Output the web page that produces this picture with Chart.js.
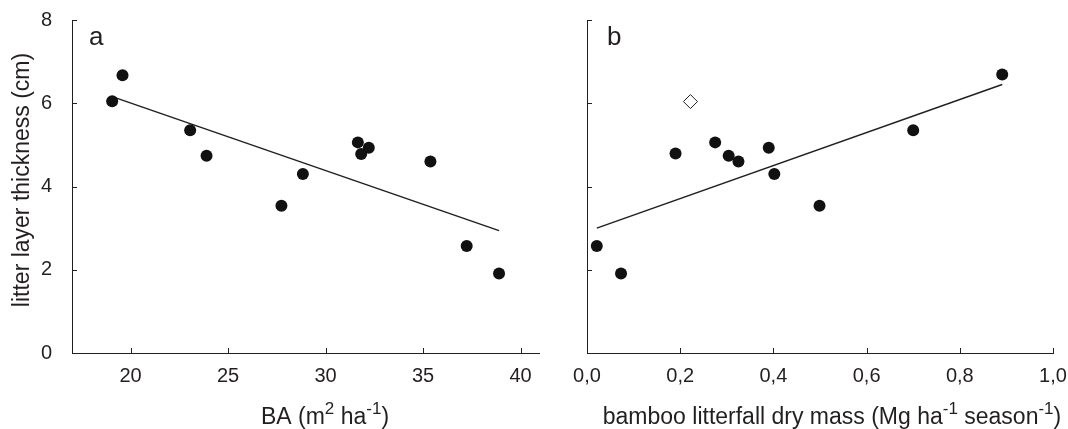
<!DOCTYPE html>
<html>
<head>
<meta charset="utf-8">
<script src="https://cdn.jsdelivr.net/npm/chart.js@4.4.0/dist/chart.umd.min.js"></script>
<style>
  html, body { margin: 0; padding: 0; background: #fff; }
  #wrap { position: relative; width: 1068px; height: 429px; }
  #chartA { position: absolute; left: 0; top: 0; }
  #chartB { position: absolute; left: 540px; top: 0; }
</style>
</head>
<body>
<div id="wrap">
  <canvas id="chartA" width="540" height="429"></canvas>
  <canvas id="chartB" width="528" height="429"></canvas>
</div>
<script>
// panel a: basal area vs litter layer thickness
const basalArea = [19.06, 19.59, 23.06, 23.90, 27.74, 28.84, 31.66, 31.83, 32.22, 35.38, 37.24, 38.90];
const thicknessA = [6.05, 6.67, 5.35, 4.74, 3.54, 4.30, 5.06, 4.78, 4.93, 4.60, 2.57, 1.91];
const fitAX = [19.06, 38.90];
const fitAY = [6.16, 2.94];

// panel b: bamboo litterfall vs litter layer thickness
const litterMass = [0.021, 0.073, 0.190, 0.275, 0.304, 0.325, 0.390, 0.402, 0.499, 0.700, 0.891];
const thicknessB = [2.57, 1.91, 4.79, 5.06, 4.74, 4.60, 4.93, 4.30, 3.54, 5.35, 6.69];
const outlierMass = [0.222];
const outlierThickness = [6.04];
const fitBX = [0.021, 0.891];
const fitBY = [3.00, 6.45];

// ticks
const thicknessTicks = [0, 2, 4, 6, 8];
const basalTicks = [20, 25, 30, 35, 40];
const massTicks = [0, 0.2, 0.4, 0.6, 0.8, 1.0];

const FONT = "'Liberation Sans', Arial, sans-serif";
const INK = "#231f20";

function toPoints(xs, ys) {
    return xs.map((x, i) => ({ x: x, y: ys[i] }));
}

// text with superscript pieces, centred on cx
function drawRich(ctx, parts, cx, y, size) {
    const supSize = Math.round(size * 0.72);
    let total = 0;
    parts.forEach(p => {
        ctx.font = (p[1] ? supSize : size) + "px " + FONT;
        total += ctx.measureText(p[0]).width;
    });
    let x = cx - total / 2;
    ctx.textAlign = "left";
    ctx.textBaseline = "alphabetic";
    parts.forEach(p => {
        ctx.font = (p[1] ? supSize : size) + "px " + FONT;
        ctx.fillText(p[0], x, p[1] ? y - size * 0.42 : y);
        x += ctx.measureText(p[0]).width;
    });
}

// inward tick marks, panel letter and axis titles
function panelDecor(cfg) {
    return {
        id: "panelDecor",
        afterDraw(chart) {
            const ctx = chart.ctx;
            const area = chart.chartArea;
            const sx = chart.scales.x, sy = chart.scales.y;
            ctx.save();
            ctx.strokeStyle = INK;
            ctx.lineWidth = 1;
            ctx.beginPath();
            sx.ticks.forEach(t => {
                const px = Math.round(sx.getPixelForValue(t.value)) + 0.5;
                ctx.moveTo(px, area.bottom);
                ctx.lineTo(px, area.bottom - 5);
            });
            sy.ticks.forEach(t => {
                const py = Math.round(sy.getPixelForValue(t.value)) + 0.5;
                ctx.moveTo(area.left, py);
                ctx.lineTo(area.left + 5, py);
            });
            ctx.stroke();

            ctx.fillStyle = INK;
            ctx.font = "26px " + FONT;
            ctx.textAlign = "left";
            ctx.textBaseline = "alphabetic";
            ctx.fillText(cfg.letter, cfg.letterX, 45);

            drawRich(ctx, cfg.xTitle, cfg.xTitleX, 424, 23);

            if (cfg.yTitle) {
                ctx.translate(23, 180);
                ctx.rotate(-Math.PI / 2);
                ctx.font = "23px " + FONT;
                ctx.textAlign = "center";
                ctx.textBaseline = "middle";
                ctx.fillText(cfg.yTitle, 0, 0);
            }
            ctx.restore();
        }
    };
}

function axis(min, max, ticks, fit, showLabels, pad, fmt) {
    return {
        type: "linear",
        min: min,
        max: max,
        afterBuildTicks: s => { s.ticks = ticks.map(v => ({ value: v })); },
        afterFit: fit,
        grid: { display: false },
        border: { display: true, color: INK, width: 1 },
        ticks: {
            display: showLabels,
            color: INK,
            padding: pad,
            maxRotation: 0,
            font: { family: FONT, size: 20 },
            callback: fmt
        }
    };
}

// fixed axis bands, no extra room asked for end labels
function fitX(s) {
    s.height = 76;
    s.paddingLeft = 0;
    s.paddingRight = 0;
}

function fitY(w) {
    return s => {
        s.width = w;
        s.paddingTop = 0;
        s.paddingBottom = 0;
    };
}

const pointStyle = {
    pointRadius: 6,
    pointBackgroundColor: "#111",
    pointBorderWidth: 0,
    showLine: false,
    clip: false
};

const lineStyle = {
    showLine: true,
    pointRadius: 0,
    borderColor: INK,
    borderWidth: 1.5,
    clip: false
};

const common = {
    responsive: false,
    animation: false,
    events: [],
    devicePixelRatio: 1,
    plugins: { legend: { display: false }, tooltip: { enabled: false } }
};

new Chart(document.getElementById("chartA").getContext("2d"), {
    type: "scatter",
    data: {
        datasets: [
            Object.assign({ data: toPoints(basalArea, thicknessA) }, pointStyle),
            Object.assign({ data: toPoints(fitAX, fitAY) }, lineStyle)
        ]
    },
    options: Object.assign({}, common, {
        layout: { autoPadding: false, padding: { top: 20, right: 0, left: 0, bottom: 0 } },
        scales: {
            x: axis(17, 41, basalTicks, fitX, true, 3, v => String(v)),
            y: axis(0, 8, thicknessTicks, fitY(72), true, 12, v => String(v))
        }
    }),
    plugins: [panelDecor({
        letter: "a", letterX: 89, xTitleX: 325,
        xTitle: [["BA (m", false], ["2", true], [" ha", false], ["-1", true], [")", false]],
        yTitle: "litter layer thickness (cm)"
    })]
});

new Chart(document.getElementById("chartB").getContext("2d"), {
    type: "scatter",
    data: {
        datasets: [
            Object.assign({ data: toPoints(outlierMass, outlierThickness) }, pointStyle, {
                pointStyle: "rectRot",
                pointRadius: 7,
                pointBackgroundColor: "#fff",
                pointBorderColor: INK,
                pointBorderWidth: 1
            }),
            Object.assign({ data: toPoints(litterMass, thicknessB) }, pointStyle),
            Object.assign({ data: toPoints(fitBX, fitBY) }, lineStyle)
        ]
    },
    options: Object.assign({}, common, {
        layout: { autoPadding: false, padding: { top: 20, right: 15, left: 0, bottom: 0 } },
        scales: {
            x: axis(0, 1, massTicks, fitX, true, 3, v => v.toFixed(1).replace(".", ",")),
            y: axis(0, 8, thicknessTicks, fitY(47), false, 12, v => String(v))
        }
    }),
    plugins: [panelDecor({
        letter: "b", letterX: 67, xTitleX: 292,
        xTitle: [["bamboo litterfall dry mass (Mg ha", false], ["-1", true], [" season", false], ["-1", true], [")", false]]
    })]
});
</script>
</body>
</html>
